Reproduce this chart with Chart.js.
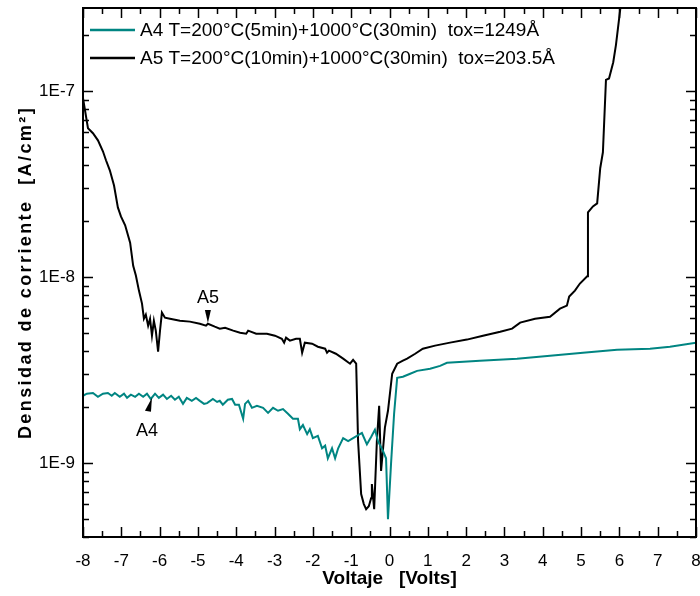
<!DOCTYPE html>
<html>
<head>
<meta charset="utf-8">
<script src="https://cdn.jsdelivr.net/npm/chart.js@4.4.1/dist/chart.umd.min.js"></script>
<style>
  body { margin: 0; background: #fff; }
  #wrap { width: 700px; height: 596px; }
</style>
</head>
<body>
<div id="wrap"><canvas id="myChartJV" width="700" height="596"></canvas></div>
<script>
// sample A4 (teal)
var voltsA4 = [-8.00, -7.90, -7.74, -7.61, -7.48, -7.35, -7.25, -7.17, -7.04, -6.93, -6.85, -6.75, -6.64, -6.54,
  -6.43, -6.33, -6.23, -6.12, -6.02, -5.91, -5.81, -5.70, -5.60, -5.50, -5.39, -5.29, -5.16, -5.05, -4.95,
  -4.84, -4.76, -4.61, -4.50, -4.43, -4.35, -4.22, -4.11, -4.03, -3.93, -3.82, -3.77, -3.69, -3.59, -3.46,
  -3.30, -3.17, -3.04, -2.91, -2.78, -2.65, -2.52, -2.39, -2.34, -2.26, -2.15, -2.08, -2.00, -1.87, -1.76,
  -1.68, -1.61, -1.50, -1.42, -1.34, -1.21, -1.08, -0.95, -0.85, -0.72, -0.59, -0.48, -0.38, -0.30, -0.17,
  -0.09, -0.04, 0.04, 0.12, 0.20, 0.35, 0.54, 0.72, 1.06, 1.32, 1.50, 2.36, 3.33, 4.19, 5.05, 5.94, 6.80,
  7.32, 8.00];
var jA4 = [2.30e-9, 2.36e-9, 2.38e-9, 2.27e-9, 2.36e-9, 2.38e-9, 2.30e-9, 2.38e-9, 2.27e-9, 2.36e-9, 2.24e-9,
  2.33e-9, 2.27e-9, 2.36e-9, 2.27e-9, 2.36e-9, 2.21e-9, 2.36e-9, 2.24e-9, 2.33e-9, 2.21e-9, 2.30e-9, 2.19e-9,
  2.27e-9, 2.08e-9, 2.24e-9, 2.16e-9, 2.24e-9, 2.16e-9, 2.08e-9, 2.10e-9, 2.21e-9, 2.13e-9, 2.16e-9, 2.06e-9,
  2.19e-9, 2.21e-9, 2.06e-9, 2.06e-9, 1.73e-9, 2.08e-9, 2.16e-9, 1.98e-9, 2.03e-9, 1.98e-9, 1.86e-9, 1.98e-9,
  1.91e-9, 1.95e-9, 1.84e-9, 1.73e-9, 1.73e-9, 1.52e-9, 1.60e-9, 1.43e-9, 1.52e-9, 1.36e-9, 1.40e-9, 1.20e-9,
  1.24e-9, 1.06e-9, 1.20e-9, 1.06e-9, 1.20e-9, 1.36e-9, 1.31e-9, 1.36e-9, 1.40e-9, 1.45e-9, 1.26e-9, 1.38e-9,
  1.51e-9, 1.31e-9, 1.16e-9, 1.06e-9, 4.99e-10, 9.9e-10, 1.84e-9, 2.87e-9, 2.91e-9, 3.02e-9, 3.13e-9, 3.21e-9,
  3.33e-9, 3.46e-9, 3.55e-9, 3.64e-9, 3.78e-9, 3.92e-9, 4.06e-9, 4.12e-9, 4.22e-9, 4.44e-9];

// sample A5 (black)
var voltsA5 = [-8.00, -7.87, -7.74, -7.61, -7.48, -7.40, -7.30, -7.19, -7.09, -7.01, -6.90, -6.77, -6.69, -6.62,
  -6.54, -6.46, -6.41, -6.36, -6.30, -6.25, -6.20, -6.15, -6.10, -6.04, -5.99, -5.94, -5.86, -5.73, -5.47,
  -5.21, -4.95, -4.79, -4.74, -4.56, -4.43, -4.29, -4.08, -3.90, -3.74, -3.69, -3.48, -3.20, -2.99, -2.81,
  -2.75, -2.70, -2.60, -2.44, -2.34, -2.28, -2.21, -2.02, -1.87, -1.68, -1.63, -1.58, -1.40, -1.21, -1.03,
  -0.95, -0.87, -0.82, -0.74, -0.67, -0.61, -0.54, -0.48, -0.46, -0.40, -0.33, -0.27, -0.22, -0.12, -0.04,
  0.07, 0.20, 0.35, 0.46, 0.67, 0.87, 1.19, 1.58, 2.02, 2.44, 2.89, 3.20, 3.41, 3.80, 4.19, 4.45, 4.63, 4.69,
  4.84, 4.97, 5.16, 5.18, 5.31, 5.42, 5.50, 5.57, 5.65, 5.73, 5.84, 5.91, 6.02, 6.05];
var jA5 = [9.17e-8, 6.32e-8, 5.94e-8, 5.44e-8, 4.75e-8, 4.25e-8, 3.75e-8, 3.11e-8, 2.37e-8, 2.12e-8, 1.90e-8,
  1.53e-8, 1.15e-8, 1.02e-8, 8.46e-9, 7.2e-9, 5.97e-9, 6.28e-9, 5.48e-9, 5.97e-9, 4.84e-9, 5.82e-9, 5.15e-9,
  3.97e-9, 5.15e-9, 6.44e-9, 6.05e-9, 5.97e-9, 5.82e-9, 5.76e-9, 5.61e-9, 5.48e-9, 5.61e-9, 5.41e-9, 5.28e-9,
  5.34e-9, 5.15e-9, 5.02e-9, 4.96e-9, 5.15e-9, 4.96e-9, 4.96e-9, 4.84e-9, 4.66e-9, 4.44e-9, 4.72e-9, 4.55e-9,
  4.66e-9, 4.66e-9, 3.92e-9, 4.44e-9, 4.38e-9, 4.22e-9, 4.12e-9, 3.92e-9, 4.02e-9, 3.87e-9, 3.64e-9, 3.42e-9,
  3.59e-9, 3.42e-9, 1.31e-9, 6.81e-10, 6.01e-10, 5.65e-10, 5.86e-10, 6.47e-10, 7.71e-10, 5.65e-10, 1.31e-9,
  2.03e-9, 9.06e-10, 1.55e-9, 1.91e-9, 3.02e-9, 3.42e-9, 3.55e-9, 3.64e-9, 3.87e-9, 4.12e-9, 4.28e-9, 4.44e-9,
  4.61e-9, 4.84e-9, 5.08e-9, 5.28e-9, 5.69e-9, 5.97e-9, 6.12e-9, 6.76e-9, 7.02e-9, 7.85e-9, 8.46e-9, 9.23e-9,
  1.01e-8, 2.23e-8, 2.40e-8, 2.49e-8, 3.85e-8, 4.69e-8, 1.15e-7, 1.17e-7, 1.43e-7, 1.77e-7, 2.73e-7, 3.2e-7];

var seriesLabels = ['A4 T=200\u00b0C(5min)+1000\u00b0C(30min)  tox=1249\u00c5',
                    'A5 T=200\u00b0C(10min)+1000\u00b0C(30min)  tox=203.5\u00c5'];
var seriesColors = ['rgb(0, 133, 130)', 'rgb(0, 0, 0)'];

var xTicks = [-8, -7, -6, -5, -4, -3, -2, -1, 0, 1, 2, 3, 4, 5, 6, 7, 8];
var yDecades = [1e-9, 1e-8, 1e-7];
var yTitle = 'Densidad de corriente  [A/cm\u00b2]';

// arrow labels: name, voltage, current at arrow tip
var markNames = ['A5', 'A4'];
var markVolts = [-4.74, -6.20];
var markJ = [5.6e-9, 2.3e-9];

const FONT = '"Liberation Sans", Arial, sans-serif';

function toPoints(xs, ys) {
  var pts = [];
  for (let i = 0; i < xs.length; i++) pts.push({x: xs[i], y: ys[i]});
  return pts;
}

function yMinorList() {
  var list = [];
  for (let d = -10; d <= -7; d++) {
    for (let m = 1; m <= 9; m++) list.push(m * Math.pow(10, d));
  }
  return list;
}

const framePlugin = {
  id: 'frame',
  afterDraw(chart) {
    const c = chart.ctx;
    const a = chart.chartArea;
    const xs = chart.scales.x, ys = chart.scales.y;
    c.save();
    c.strokeStyle = '#000';
    c.lineWidth = 2;
    c.strokeRect(a.left, a.top, a.right - a.left, a.bottom - a.top);
    c.lineWidth = 1.5;
    c.beginPath();
    // x ticks (major every 1, minor every 0.5), inside, bottom + top
    for (let v = xs.min; v <= xs.max + 1e-9; v += 0.5) {
      const px = Math.round(xs.getPixelForValue(v)) + 0.5;
      const len = Math.abs(v - Math.round(v)) < 1e-6 ? 10 : 6;
      c.moveTo(px, a.bottom); c.lineTo(px, a.bottom - len);
      c.moveTo(px, a.top); c.lineTo(px, a.top + len);
    }
    // y ticks (decades major, 2..9 minor)
    yMinorList().forEach(function (v) {
      if (v < ys.min || v > ys.max) return;
      const py = Math.round(ys.getPixelForValue(v)) + 0.5;
      const major = Math.abs(Math.log10(v) - Math.round(Math.log10(v))) < 1e-6;
      const len = major ? 10 : 6;
      c.moveTo(a.left, py); c.lineTo(a.left + len, py);
      c.moveTo(a.right, py); c.lineTo(a.right - len, py);
    });
    c.stroke();

    // legend inside the plot
    c.font = '19px ' + FONT;
    c.textBaseline = 'middle';
    c.textAlign = 'left';
    chart.data.datasets.forEach(function (ds, i) {
      const ly = a.top + 22 + i * 28;
      c.strokeStyle = ds.borderColor;
      c.lineWidth = 2.5;
      c.beginPath();
      c.moveTo(a.left + 7, ly); c.lineTo(a.left + 52, ly);
      c.stroke();
      c.fillStyle = '#000';
      c.fillText(ds.label, a.left + 57, ly + 1);
    });

    // arrow labels
    c.fillStyle = '#000';
    c.textAlign = 'center';
    c.font = '18px ' + FONT;
    markNames.forEach(function (name, i) {
      const tx = xs.getPixelForValue(markVolts[i]);
      const ty = ys.getPixelForValue(markJ[i]);
      c.beginPath();
      if (i === 0) {
        c.moveTo(tx, ty - 1);
        c.lineTo(tx - 3, ty - 14);
        c.lineTo(tx + 3, ty - 14);
        c.closePath();
        c.fill();
        c.textBaseline = 'alphabetic';
        c.fillText(name, tx, ty - 21);
      } else {
        c.moveTo(tx, ty + 2);
        c.lineTo(tx - 7, ty + 15);
        c.lineTo(tx - 1, ty + 16);
        c.closePath();
        c.fill();
        c.textBaseline = 'alphabetic';
        c.fillText(name, tx - 5, ty + 40);
      }
    });

    // y axis title, letter spaced
    c.translate(26, (a.top + a.bottom) / 2);
    c.rotate(-Math.PI / 2);
    c.font = 'bold 18px ' + FONT;
    c.letterSpacing = '2.4px';
    c.textAlign = 'center';
    c.textBaseline = 'middle';
    c.fillText(yTitle, 0, 0);
    c.restore();
  }
};

const ctx = document.getElementById('myChartJV').getContext('2d');
const myChart = new Chart(ctx, {
  type: 'line',
  data: {
    datasets: [
      {
        label: seriesLabels[0],
        data: toPoints(voltsA4, jA4),
        borderColor: seriesColors[0],
        borderWidth: 2,
        pointRadius: 0,
        fill: false,
        tension: 0
      },
      {
        label: seriesLabels[1],
        data: toPoints(voltsA5, jA5),
        borderColor: seriesColors[1],
        borderWidth: 2,
        pointRadius: 0,
        fill: false,
        tension: 0
      }
    ]
  },
  plugins: [framePlugin],
  options: {
    responsive: false,
    animation: false,
    layout: { padding: { left: 0, right: 4, top: 8, bottom: 0 } },
    plugins: {
      legend: { display: false },
      tooltip: { enabled: false }
    },
    scales: {
      x: {
        type: 'linear',
        min: -8,
        max: 8,
        grid: { display: false, drawTicks: false },
        border: { display: false },
        afterBuildTicks: function (scale) {
          scale.ticks = xTicks.map(function (v) { return {value: v}; });
        },
        afterFit: function (scale) {
          scale.height = 59;
          scale.paddingLeft = 0;
          scale.paddingRight = 0;
        },
        ticks: {
          color: '#000',
          padding: 14,
          autoSkip: false,
          maxRotation: 0,
          font: { family: FONT, size: 17 }
        },
        title: {
          display: true,
          text: 'Voltaje   [Volts]',
          color: '#000',
          padding: { top: 0, bottom: 6 },
          font: { family: FONT, size: 19, weight: 'bold' }
        }
      },
      y: {
        type: 'logarithmic',
        min: 4e-10,
        max: 2.8e-7,
        grid: { display: false, drawTicks: false },
        border: { display: false },
        afterBuildTicks: function (scale) {
          scale.ticks = yDecades.map(function (v) { return {value: v}; });
        },
        afterFit: function (scale) {
          scale.width = 83;
          scale.paddingTop = 0;
          scale.paddingBottom = 0;
        },
        ticks: {
          color: '#000',
          padding: 8,
          autoSkip: false,
          font: { family: FONT, size: 17 },
          callback: function (value) {
            return '1E' + Math.round(Math.log10(value));
          }
        }
      }
    }
  }
});
</script>
</body>
</html>
